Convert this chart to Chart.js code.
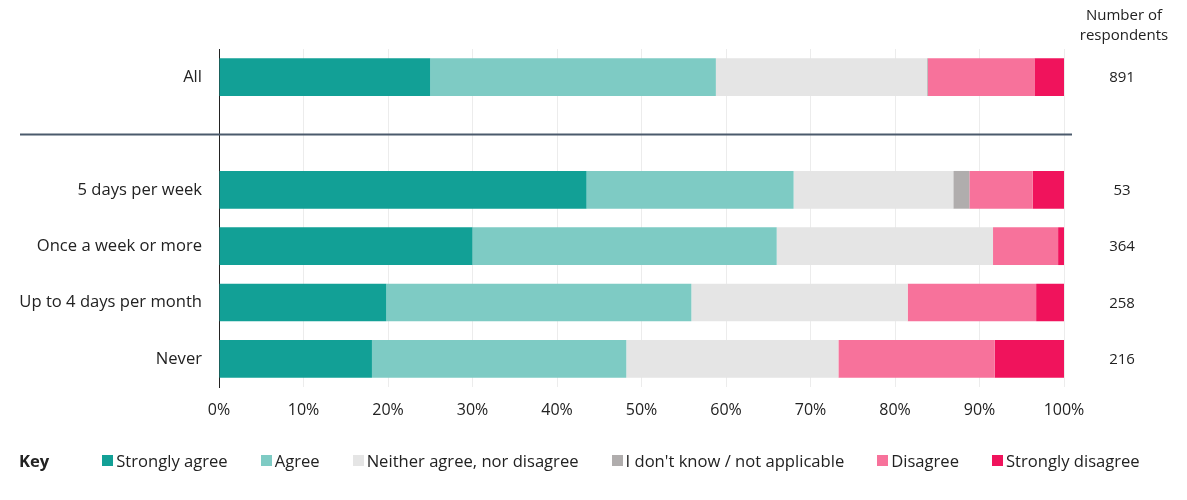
<!DOCTYPE html>
<html>
<head>
<meta charset="utf-8">
<script src="https://cdn.jsdelivr.net/npm/chart.js@4"></script>
<style>
  body { margin: 0; background: #fff; font-family: "Open Sans", sans-serif; }
  #wrap { position: relative; width: 1187px; height: 500px; }
  #key { position: absolute; left: 19px; top: 449px; display: flex; align-items: center; font-size: 16.6px; color: #222; }
  #key b { margin-right: 53px; }
  .item { display: flex; align-items: center; margin-right: 33px; }
  .sw { width: 11px; height: 11px; margin-right: 3px; }
</style>
</head>
<body>
<div id="wrap">
  <canvas id="chart" width="1187" height="500"></canvas>
  <div id="key"><b>Key</b></div>
</div>
<script>
document.addEventListener("DOMContentLoaded", function(){
    //Row labels (blank row is where the separator goes)
    const CATEGORIES = ['All', '', '5 days per week', 'Once a week or more', 'Up to 4 days per month', 'Never'];
    const RESPONDENTS = ['891', '', '53', '364', '258', '216'];

    //Series values, % of respondents
    const STRONGLY_AGREE = [25.0, null, 43.5, 30.0, 19.8, 18.1];
    const AGREE          = [33.8, null, 24.5, 36.0, 36.1, 30.1];
    const NEITHER        = [25.0, null, 18.9, 25.6, 25.6, 25.1];
    const DONT_KNOW      = [0.1,  null, 1.9,  0,    0,    0];
    const DISAGREE       = [12.6, null, 7.5,  7.7,  15.2, 18.5];
    const STRONGLY_DIS   = [3.5,  null, 3.7,  0.7,  3.3,  8.2];

    const SERIES_NAMES = ['Strongly agree', 'Agree', 'Neither agree, nor disagree', "I don't know / not applicable", 'Disagree', 'Strongly disagree'];
    const SERIES_VALUES = [STRONGLY_AGREE, AGREE, NEITHER, DONT_KNOW, DISAGREE, STRONGLY_DIS];
    const COLOURS = ['#12a096', '#7ecbc4', '#e5e5e5', '#b0adad', '#f7729b', '#f0135c'];

    const FONT = "'Open Sans', sans-serif";

    //Key below chart
    const key = document.getElementById("key");
    SERIES_NAMES.forEach((name, i) => {
        const item = document.createElement("div");
        item.className = "item";
        item.innerHTML = '<span class="sw" style="background:' + COLOURS[i] + '"></span>' + name;
        key.appendChild(item);
    });

    //Separator line + respondents column
    const extras = {
        id: 'extras',
        afterDraw(chart) {
            const ctx = chart.ctx;
            const y = chart.scales.y;
            const sepY = Math.round(y.getPixelForValue(1)) + 0.5;
            ctx.save();
            ctx.strokeStyle = '#4b5a6c';
            ctx.lineWidth = 2;
            ctx.beginPath();
            ctx.moveTo(20, sepY);
            ctx.lineTo(chart.chartArea.right + 8, sepY);
            ctx.stroke();

            ctx.fillStyle = '#222';
            ctx.font = '15px ' + FONT;
            ctx.textAlign = 'center';
            ctx.textBaseline = 'middle';
            ctx.fillText('Number of', 1124, 16);
            ctx.fillText('respondents', 1124, 36);
            RESPONDENTS.forEach((n, i) => {
                if (n) ctx.fillText(n, 1122, y.getPixelForValue(i) + 1);
            });
            ctx.restore();
        }
    };

    const ctx = document.getElementById("chart").getContext("2d");
    new Chart(ctx, {
        type: 'bar',
        data: {
            labels: CATEGORIES,
            datasets: SERIES_NAMES.map((name, i) => ({
                label: name,
                data: SERIES_VALUES[i],
                backgroundColor: COLOURS[i],
                borderWidth: 0,
                categoryPercentage: 1,
                barPercentage: 0.67
            }))
        },
        options: {
            indexAxis: 'y',
            responsive: false,
            animation: false,
            layout: { padding: { top: 49, right: 123, bottom: 73, left: 0 } },
            plugins: {
                legend: { display: false },
                tooltip: { enabled: false }
            },
            scales: {
                x: {
                    stacked: true,
                    min: 0,
                    max: 100,
                    grid: { color: '#ececec', drawTicks: false },
                    border: { display: false },
                    ticks: {
                        stepSize: 10,
                        padding: 14,
                        color: '#222',
                        font: { family: FONT, size: 16 },
                        callback: v => v + '%'
                    },
                    afterFit: s => { s.height = 40; }
                },
                y: {
                    stacked: true,
                    z: 1,
                    grid: { display: false, drawTicks: false },
                    border: { display: true, color: '#222', width: 1 },
                    ticks: {
                        padding: 17,
                        color: '#222',
                        font: { family: FONT, size: 16.6 }
                    },
                    afterFit: s => { s.width = 219; }
                }
            }
        },
        plugins: [extras]
    });
});
</script>
</body>
</html>
